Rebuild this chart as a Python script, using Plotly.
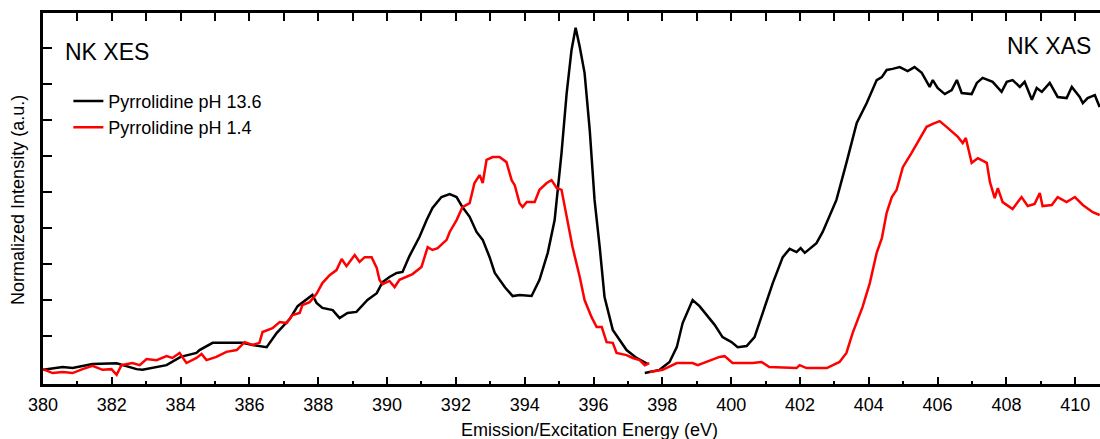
import plotly.graph_objects as go

# N K-edge emission (XES) and absorption (XAS) spectra of pyrrolidine in solution
# Energies in eV, intensities normalized (a.u.)

xes_e_black = [380.00, 380.48, 380.57, 380.86, 381.44, 382.14, 382.72, 382.89, 383.47, 383.59,
               384.00, 384.46, 384.55, 384.93, 385.42, 385.80, 386.09, 386.50, 386.79, 387.17,
               387.40, 387.83, 387.95, 388.12, 388.42, 388.62, 388.85, 389.11, 389.43, 389.70,
               389.87, 390.07, 390.28, 390.45, 390.65, 390.94, 391.15, 391.32, 391.58, 391.82,
               392.02, 392.19, 392.40, 392.60, 392.78, 392.98, 393.13, 393.42, 393.65, 393.85,
               394.20, 394.43, 394.67, 394.87, 395.07, 395.22, 395.36, 395.48, 395.60, 395.74,
               395.89, 396.03, 396.18, 396.32, 396.56, 396.70, 396.96, 397.25, 397.49, 397.58]
xes_i_black = [0.006, 0.014, 0.014, 0.011, 0.022, 0.024, 0.008, 0.006, 0.017, 0.019,
               0.042, 0.053, 0.061, 0.081, 0.081, 0.081, 0.075, 0.069, 0.108, 0.147,
               0.183, 0.214, 0.192, 0.178, 0.172, 0.150, 0.164, 0.167, 0.200, 0.219,
               0.250, 0.264, 0.275, 0.278, 0.322, 0.375, 0.422, 0.456, 0.486, 0.494,
               0.486, 0.458, 0.431, 0.389, 0.367, 0.319, 0.275, 0.236, 0.211, 0.214,
               0.211, 0.256, 0.331, 0.422, 0.608, 0.775, 0.894, 0.956, 0.903, 0.831,
               0.672, 0.478, 0.347, 0.208, 0.117, 0.097, 0.061, 0.039, 0.025, 0.022]

xes_e_red = [380.00, 380.28, 380.57, 380.86, 381.15, 381.44, 381.73, 381.99, 382.14, 382.28,
             382.60, 382.81, 383.01, 383.30, 383.59, 383.76, 383.97, 384.17, 384.46, 384.61,
             384.75, 385.04, 385.33, 385.63, 385.86, 386.09, 386.29, 386.38, 386.67, 386.88,
             387.08, 387.25, 387.46, 387.54, 387.75, 387.95, 388.12, 388.33, 388.53, 388.68,
             388.82, 389.06, 389.20, 389.35, 389.55, 389.70, 389.78, 389.87, 390.07, 390.22,
             390.36, 390.57, 390.74, 391.00, 391.18, 391.32, 391.47, 391.73, 391.82, 392.02,
             392.19, 392.40, 392.54, 392.69, 392.78, 392.89, 393.07, 393.27, 393.47, 393.62,
             393.71, 393.85, 393.94, 394.06, 394.29, 394.43, 394.64, 394.78, 394.93, 395.07,
             395.24, 395.39, 395.60, 395.74, 395.94, 396.09, 396.24, 396.38, 396.56, 396.67,
             396.96, 397.14, 397.34, 397.49, 397.62]
xes_i_red = [0.008, -0.003, 0.000, -0.003, 0.008, 0.017, 0.006, 0.008, -0.008, 0.019,
             0.025, 0.019, 0.036, 0.033, 0.044, 0.039, 0.053, 0.025, 0.039, 0.050,
             0.033, 0.042, 0.056, 0.061, 0.083, 0.075, 0.081, 0.111, 0.122, 0.139,
             0.136, 0.158, 0.164, 0.186, 0.194, 0.217, 0.247, 0.269, 0.283, 0.314,
             0.294, 0.325, 0.306, 0.319, 0.319, 0.289, 0.256, 0.244, 0.253, 0.236,
             0.256, 0.264, 0.272, 0.292, 0.347, 0.339, 0.344, 0.367, 0.389, 0.422,
             0.458, 0.469, 0.525, 0.547, 0.525, 0.589, 0.597, 0.597, 0.583, 0.533,
             0.519, 0.469, 0.458, 0.472, 0.472, 0.506, 0.525, 0.533, 0.511, 0.506,
             0.422, 0.347, 0.264, 0.200, 0.153, 0.125, 0.125, 0.083, 0.081, 0.053,
             0.047, 0.039, 0.033, 0.019, 0.025]

xas_e_black = [397.49, 397.92, 398.21, 398.42, 398.59, 398.88, 399.08, 399.32, 399.52, 399.75,
               400.01, 400.19, 400.45, 400.68, 400.91, 401.21, 401.50, 401.70, 401.90, 402.02,
               402.14, 402.48, 402.66, 402.86, 403.06, 403.35, 403.65, 403.94, 404.23, 404.38,
               404.52, 404.69, 404.90, 405.13, 405.33, 405.54, 405.77, 405.86, 406.00, 406.21,
               406.41, 406.56, 406.70, 406.99, 407.14, 407.31, 407.60, 407.86, 408.01, 408.18,
               408.39, 408.53, 408.74, 408.88, 409.03, 409.26, 409.49, 409.75, 409.90, 410.13,
               410.22, 410.36, 410.57, 410.71]
xas_i_black = [-0.003, 0.006, 0.028, 0.069, 0.136, 0.200, 0.183, 0.153, 0.131, 0.097,
               0.083, 0.069, 0.072, 0.097, 0.164, 0.247, 0.319, 0.342, 0.333, 0.344,
               0.331, 0.358, 0.389, 0.436, 0.478, 0.581, 0.692, 0.747, 0.811, 0.819,
               0.839, 0.842, 0.847, 0.836, 0.847, 0.831, 0.792, 0.811, 0.789, 0.772,
               0.783, 0.811, 0.775, 0.772, 0.803, 0.817, 0.806, 0.778, 0.806, 0.811,
               0.792, 0.806, 0.756, 0.789, 0.778, 0.803, 0.764, 0.761, 0.792, 0.764,
               0.747, 0.761, 0.769, 0.736]

xas_e_red = [397.63, 398.01, 398.42, 398.88, 399.03, 399.29, 399.46, 399.66, 399.81, 400.04,
             400.62, 400.88, 401.11, 401.61, 401.90, 401.99, 402.19, 402.78, 403.15, 403.35,
             403.53, 403.82, 404.03, 404.23, 404.38, 404.52, 404.67, 404.81, 404.99, 405.24,
             405.48, 405.68, 405.86, 406.06, 406.26, 406.44, 406.59, 406.73, 406.82, 406.99,
             407.17, 407.43, 407.52, 407.66, 407.75, 407.89, 408.18, 408.44, 408.62, 408.82,
             408.97, 409.05, 409.32, 409.49, 409.75, 409.99, 410.22, 410.51, 410.71]
xas_i_red = [0.000, 0.006, 0.025, 0.025, 0.019, 0.028, 0.036, 0.042, 0.044, 0.025,
             0.025, 0.028, 0.014, 0.011, 0.011, 0.019, 0.011, 0.011, 0.028, 0.053,
             0.108, 0.181, 0.247, 0.331, 0.372, 0.442, 0.486, 0.506, 0.569, 0.608,
             0.650, 0.681, 0.689, 0.697, 0.681, 0.667, 0.653, 0.636, 0.650, 0.581,
             0.594, 0.581, 0.528, 0.483, 0.511, 0.472, 0.453, 0.486, 0.461, 0.467,
             0.497, 0.461, 0.464, 0.486, 0.472, 0.486, 0.464, 0.444, 0.436]

series_names = ["Pyrrolidine pH 13.6", "Pyrrolidine pH 1.4"]
series_colors = ["#000000", "#ff0000"]

FONT = "Liberation Sans, Arial, Helvetica, sans-serif"
LW = 2.5

fig = go.Figure()
spectra = [
    (xes_e_black, xes_i_black, 0, True),
    (xas_e_black, xas_i_black, 0, False),
    (xes_e_red, xes_i_red, 1, True),
    (xas_e_red, xas_i_red, 1, False),
]
for e, i, k, show in spectra:
    fig.add_trace(go.Scatter(
        x=e, y=i, mode="lines", name=series_names[k],
        legendgroup=series_names[k], showlegend=show,
        line=dict(color=series_colors[k], width=LW),
    ))

X_RANGE = [380, 410.72]
Y_RANGE = [-0.0333, 0.9972]

fig.update_layout(
    width=1100, height=439,
    margin=dict(l=43, r=0, t=13, b=55),
    paper_bgcolor="white", plot_bgcolor="white",
    font=dict(family=FONT, size=18, color="black"),
    showlegend=True,
    legend=dict(
        x=0.024, y=0.812, xanchor="left", yanchor="top",
        bgcolor="rgba(0,0,0,0)", borderwidth=0,
        font=dict(family=FONT, size=18, color="black"),
        tracegroupgap=0,
    ),
    xaxis=dict(
        range=X_RANGE, showline=True, linecolor="black", linewidth=LW,
        ticks="inside", ticklen=7, tickwidth=2, tickcolor="black",
        tick0=380, dtick=2, showgrid=False, zeroline=False,
        ticklabelstandoff=3,
        tickfont=dict(family=FONT, size=18, color="black"),
        minor=dict(ticks="inside", ticklen=3.5, tickwidth=2, tickcolor="black",
                   dtick=1, showgrid=False),
    ),
    xaxis2=dict(
        overlaying="x", side="top", matches="x", range=X_RANGE,
        showline=True, linecolor="black", linewidth=LW,
        ticks="inside", ticklen=8, tickwidth=2, tickcolor="black",
        tick0=380, dtick=1, showticklabels=False, showgrid=False, zeroline=False,
    ),
    yaxis=dict(
        range=Y_RANGE, showline=True, linecolor="black", linewidth=LW,
        ticks="inside", ticklen=9, tickwidth=2, tickcolor="black",
        tickvals=[0.1, 0.2, 0.3, 0.4, 0.5, 0.6, 0.7, 0.8, 0.9],
        showticklabels=False, showgrid=False, zeroline=False,
    ),
)

# keep the top axis drawn
fig.add_trace(go.Scatter(x=[X_RANGE[0]], y=[None], xaxis="x2", showlegend=False,
                         hoverinfo="skip", mode="lines"))

fig.add_annotation(text="Emission/Excitation Energy (eV)", xref="paper", yref="paper",
                   x=0.5175, y=0, yshift=-46, xanchor="center", yanchor="middle",
                   showarrow=False, font=dict(family=FONT, size=18, color="black"))
fig.add_annotation(text="Normalized Intensity (a.u.)", xref="paper", yref="paper",
                   x=-0.0237, y=0.496, xanchor="center", yanchor="middle", textangle=-90,
                   showarrow=False, font=dict(family=FONT, size=18, color="black"))
fig.add_annotation(text="NK XES", xref="paper", yref="paper",
                   x=0.0189, y=0.895, xanchor="left", yanchor="middle",
                   showarrow=False, font=dict(family=FONT, size=23, color="black"))
fig.add_annotation(text="NK XAS", xref="paper", yref="paper",
                   x=0.9934, y=0.911, xanchor="right", yanchor="middle",
                   showarrow=False, font=dict(family=FONT, size=23, color="black"))

fig.write_html("out.html")
